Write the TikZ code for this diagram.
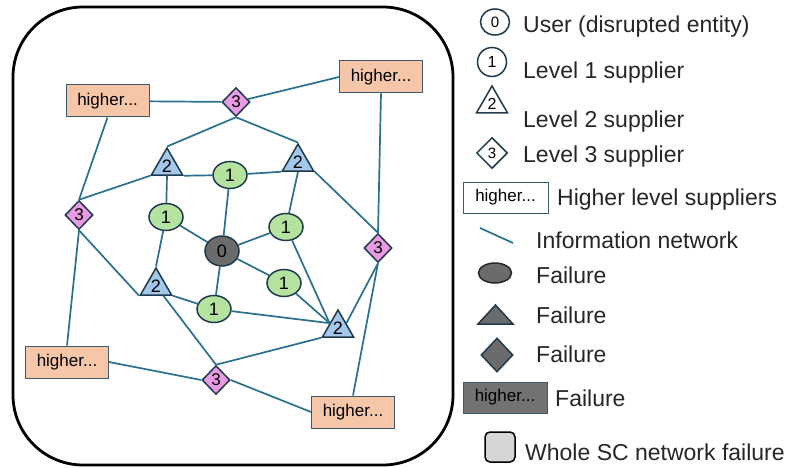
\documentclass[tikz,border=0pt]{standalone}
\usepackage{fontspec}
\setmainfont{Liberation Sans}
\usetikzlibrary{shapes.geometric}
\definecolor{edgec}{HTML}{2A6F8E}
\definecolor{bord}{HTML}{1E3A4C}
\definecolor{lgreen}{HTML}{B4E3A0}
\definecolor{lblue}{HTML}{A3C8EA}
\definecolor{lpink}{HTML}{E89BE4}
\definecolor{salmon}{HTML}{F6C6A9}
\definecolor{hbord}{HTML}{3A5A70}
\definecolor{dgray}{HTML}{6B6B6B}
\definecolor{lgray}{HTML}{D6D6D6}
\begin{document}
\begin{tikzpicture}[x=1pt,y=-1pt,
  lvzero/.style={ellipse, draw=bord, fill=dgray, line width=1.5pt, minimum width=34pt, minimum height=30pt, inner sep=0pt, font=\fontsize{18}{18}\selectfont},
  lvone/.style={ellipse, draw=bord, fill=lgreen, line width=1.5pt, minimum width=34pt, minimum height=27pt, inner sep=0pt, font=\fontsize{18}{18}\selectfont},
  lvtwo/.style={regular polygon, regular polygon sides=3, draw=bord, fill=lblue, line width=1.5pt, minimum size=36pt, inner sep=0pt, font=\fontsize{18}{18}\selectfont},
  lvthree/.style={diamond, draw=bord, fill=lpink, line width=1.5pt, minimum width=28pt, minimum height=29pt, inner sep=0pt, font=\fontsize{17}{17}\selectfont},
  higher/.style={rectangle, draw=hbord, fill=salmon, line width=1pt, minimum width=83pt, minimum height=32pt, inner sep=0pt, font=\fontsize{17}{17}\selectfont},
  link/.style={draw=edgec, line width=1.7pt},
  legtext/.style={anchor=base west, inner sep=0pt, font=\fontsize{23}{23}\selectfont, text=black!85},
  legsym/.style={draw=bord, line width=1.5pt, inner sep=0pt}
]
\useasboundingbox (0,0) rectangle (787,468);
\draw[line width=2.8pt, rounded corners=70pt] (13,7) rectangle (453,465);

% nodes
\node[higher] (hTL) at (107.5,101) {higher...};
\node[higher] (hTR) at (381,77) {higher...};
\node[higher] (hBL) at (67,362) {higher...};
\node[higher] (hBR) at (353,412) {higher...};
\node[lvthree] (d3t) at (236,102) {3};
\node[lvthree] (d3l) at (79,215) {3};
\node[lvthree] (d3r) at (378,248) {3};
\node[lvthree] (d3b) at (216,380) {3};
\node[lvtwo] (t2l) at (167,166) {2};
\node[lvtwo] (t2r) at (298,162) {2};
\node[lvtwo] (t2bl) at (156,286) {2};
\node[lvtwo] (t2br) at (338,328) {2};
\node[lvone] (c1t) at (230,175) {1};
\node[lvone] (c1l) at (166,217) {1};
\node[lvone] (c1rt) at (286,227) {1};
\node[lvone] (c1rb) at (284,283) {1};
\node[lvone] (c1b) at (214,309) {1};
\node[lvzero] (c0) at (222,251) {0};

% links
\draw[link] (hTL) -- (d3t);
\draw[link] (d3t) -- (hTR.west);
\draw[link] (d3t.south) -- (t2l.corner 1);
\draw[link] (d3t.south) -- (t2r.corner 1);
\draw[link] (hTL.south) -- (d3l.north);
\draw[link] (hTR.south) -- (d3r.north);
\draw[link] (t2l.corner 3) -- (c1t);
\draw[link] (c1t) -- (t2r.corner 2);
\draw[link] (t2l.corner 2) -- (d3l.north);
\draw[link] (t2l.side 2) -- (c1l);
\draw[link] (c1t) -- (c0);
\draw[link] (t2r.side 2) -- (c1rt);
\draw[link] (t2r.corner 3) -- (d3r.north);
\draw[link] (c1l) -- (c0);
\draw[link] (c1rt) -- (c0);
\draw[link] (c1rt) -- (t2br.side 1);
\draw[link] (c0) -- (c1rb);
\draw[link] (c0) -- (c1b);
\draw[link] (d3l.south) -- (t2bl.corner 2);
\draw[link] (d3l.south) -- (hBL.north);
\draw[link] (t2bl.corner 1) -- (c1l);
\draw[link] (t2bl.corner 3) -- (c1b);
\draw[link] (t2bl) -- (d3b.north);
\draw[link] (c1b) -- (t2br.side 1);
\draw[link] (c1rb) -- (t2br.side 1);
\draw[link] (t2br.side 3) -- (d3r.south);
\draw[link] (t2br.corner 2) -- (d3b.north);
\draw[link] (d3r.south) -- (hBR.north);
\draw[link] (hBL.east) -- (d3b.west);
\draw[link] (d3b.east) -- (hBR.west);

% legend symbols
\node[legsym, ellipse, minimum width=29pt, minimum height=26pt, font=\fontsize{15}{15}\selectfont] (lg0) at (495,22) {0};
\node[legsym, circle, minimum size=29pt, font=\fontsize{16}{16}\selectfont] (lg1) at (492,62) {1};
\node[legsym, regular polygon, regular polygon sides=3, minimum size=36pt, font=\fontsize{16}{16}\selectfont] (lg2) at (492,104) {2};
\node[legsym, diamond, minimum width=31pt, minimum height=31pt, font=\fontsize{15}{15}\selectfont] (lg3) at (492,153) {3};
\node[rectangle, draw=hbord, fill=white, line width=1pt, minimum width=85pt, minimum height=31pt, inner sep=0pt, font=\fontsize{17}{17}\selectfont] (lgh) at (505.5,197.5) {higher...};
\coordinate (lla) at (480,228);
\coordinate (llb) at (513,243);
\draw[link] (lla) -- (llb);
\node[legsym, ellipse, fill=dgray, draw=black!85, minimum width=33pt, minimum height=20pt] (lgf0) at (495,273) {};
\draw[legsym, fill=dgray, line join=miter] (478,324) -- (495.5,305) -- (513,324) -- cycle;
\node[legsym, diamond, fill=dgray, minimum width=32pt, minimum height=34pt] (lgf2) at (497,355) {};
\node[rectangle, draw=hbord, fill=dgray!95, line width=1pt, minimum width=84pt, minimum height=31pt, inner sep=0pt, font=\fontsize{17}{17}\selectfont] (lgf3) at (505,397.5) {higher...};
\draw[line width=1.5pt, fill=lgray, rounded corners=5pt] (485,432) rectangle (515,462);

% legend text
\node[legtext] (t0) at (523,33) {User (disrupted entity)};
\node[legtext] (t1) at (523,79) {Level 1 supplier};
\node[legtext] (t2) at (523,128) {Level 2 supplier};
\node[legtext] (t3) at (523,162) {Level 3 supplier};
\node[legtext] (t4) at (557,205) {Higher level suppliers};
\node[legtext] (t5) at (536,248) {Information network};
\node[legtext] (t6) at (536,283) {Failure};
\node[legtext] (t7) at (536,323) {Failure};
\node[legtext] (t8) at (536,362) {Failure};
\node[legtext] (t9) at (555,406) {Failure};
\node[legtext] (t10) at (525,460) {Whole SC network failure};
\end{tikzpicture}
\end{document}
